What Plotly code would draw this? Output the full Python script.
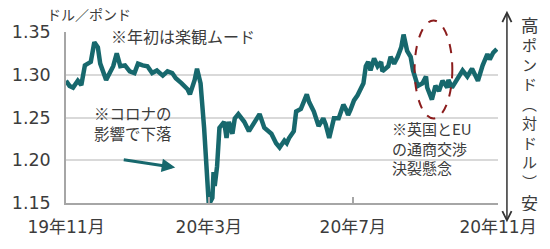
import plotly.graph_objects as go

# ---- data ----
dates = [
    "2019-11-01", "2019-11-04", "2019-11-07", "2019-11-11", "2019-11-14", "2019-11-17",
    "2019-11-22", "2019-11-25", "2019-11-28", "2019-11-30", "2019-12-05", "2019-12-11",
    "2019-12-14", "2019-12-17", "2019-12-21", "2019-12-25", "2019-12-29", "2020-01-01",
    "2020-01-05", "2020-01-09", "2020-01-13", "2020-01-17", "2020-01-22", "2020-01-26",
    "2020-01-30", "2020-02-02", "2020-02-07", "2020-02-12", "2020-02-14", "2020-02-18",
    "2020-02-20", "2020-02-23", "2020-02-26", "2020-02-28", "2020-03-01", "2020-03-04",
    "2020-03-05", "2020-03-06", "2020-03-08", "2020-03-10", "2020-03-14", "2020-03-16",
    "2020-03-18", "2020-03-21", "2020-03-23", "2020-03-26", "2020-03-31", "2020-04-04",
    "2020-04-09", "2020-04-13", "2020-04-17", "2020-04-23", "2020-04-27", "2020-04-30",
    "2020-05-04", "2020-05-06", "2020-05-08", "2020-05-12", "2020-05-14", "2020-05-18",
    "2020-05-23", "2020-05-25", "2020-05-29", "2020-06-02", "2020-06-06", "2020-06-08",
    "2020-06-11", "2020-06-15", "2020-06-19", "2020-06-23", "2020-06-25", "2020-06-27",
    "2020-06-29", "2020-07-02", "2020-07-05", "2020-07-08", "2020-07-10", "2020-07-12",
    "2020-07-14", "2020-07-16", "2020-07-19", "2020-07-22", "2020-07-25", "2020-07-26",
    "2020-07-31", "2020-08-02", "2020-08-05", "2020-08-08", "2020-08-11", "2020-08-13",
    "2020-08-16", "2020-08-19", "2020-08-21", "2020-08-25", "2020-08-29", "2020-09-01",
    "2020-09-02", "2020-09-06", "2020-09-09", "2020-09-12", "2020-09-15", "2020-09-19",
    "2020-09-20", "2020-09-23", "2020-09-28", "2020-10-02", "2020-10-06", "2020-10-10",
    "2020-10-15", "2020-10-19", "2020-10-23", "2020-10-25", "2020-10-28", "2020-10-31",
]
rates = [
    1.293, 1.287, 1.285, 1.293, 1.288, 1.311,
    1.315, 1.338, 1.332, 1.313, 1.294, 1.310,
    1.325, 1.310, 1.311, 1.304, 1.302, 1.313,
    1.311, 1.310, 1.302, 1.305, 1.299, 1.304,
    1.302, 1.296, 1.290, 1.283, 1.277, 1.294,
    1.307, 1.290, 1.238, 1.189, 1.148, 1.156,
    1.186, 1.170, 1.193, 1.238, 1.245, 1.226,
    1.245, 1.231, 1.249, 1.254, 1.245, 1.234,
    1.245, 1.254, 1.238, 1.231, 1.220, 1.215,
    1.223, 1.220, 1.226, 1.234, 1.257, 1.260,
    1.277, 1.268, 1.257, 1.240, 1.249, 1.242,
    1.226, 1.249, 1.249, 1.265, 1.260, 1.253,
    1.259, 1.270, 1.276, 1.285, 1.290, 1.310,
    1.315, 1.305, 1.319, 1.310, 1.315, 1.304,
    1.310, 1.321, 1.313, 1.321, 1.332, 1.347,
    1.328, 1.321, 1.305, 1.287, 1.290, 1.298,
    1.285, 1.271, 1.287, 1.281, 1.293, 1.285,
    1.294, 1.285, 1.296, 1.305, 1.298, 1.307,
    1.293, 1.311, 1.324, 1.318, 1.326, 1.330,
]
tick_dates = ["2019-11-01", "2020-03-01", "2020-07-01", "2020-11-01"]
tick_labels = ["19年11月", "20年3月", "20年7月", "20年11月"]
y_ticks = [1.15, 1.20, 1.25, 1.30, 1.35]

# ---- layout geometry (pixels) ----
W, H = 550, 249
L, R, T, B = 63, 52, 32, 39
PW, PH = W - L - R, H - T - B


def px(x):
    return (x - L) / PW


def py(y):
    return (H - B - y) / PH


TEAL = "#17686d"
TXT = "#3c3c3c"
FONT = "DejaVu Sans, Noto Sans CJK JP, sans-serif"
JFONT = "Noto Sans CJK JP, sans-serif"

fig = go.Figure()
fig.add_trace(go.Scatter(
    x=dates, y=rates, mode="lines",
    line=dict(color=TEAL, width=4.5),
    hoverinfo="skip", showlegend=False,
))

fig.update_layout(
    width=W, height=H,
    margin=dict(l=L, r=R, t=T, b=B),
    paper_bgcolor="white", plot_bgcolor="white",
    font=dict(family=FONT, color=TXT),
    xaxis=dict(
        type="date", range=[tick_dates[0], tick_dates[-1]],
        tickvals=tick_dates, ticktext=tick_labels,
        tickfont=dict(size=17, color=TXT, family=FONT),
        showgrid=False, zeroline=False,
        showline=True, linecolor="#a6a6a6", linewidth=1.5,
        ticks="inside", ticklen=6, tickcolor="#a6a6a6", tickwidth=1.5,
        ticklabelstandoff=8, fixedrange=True,
    ),
    yaxis=dict(
        range=[y_ticks[0], y_ticks[-1]], tickvals=y_ticks, tickformat=".2f",
        tickfont=dict(size=17.5, color=TXT, family=FONT),
        showgrid=True, gridcolor="#d9d9d9", gridwidth=1.5,
        zeroline=False, showline=True, linecolor="#a6a6a6", linewidth=1.5,
        ticks="", ticklabelstandoff=10, fixedrange=True,
    ),
)

ann = []


def text(x, y, s, size=16, anchor="left", font=JFONT, height=None):
    d = dict(x=px(x), y=py(y), xref="paper", yref="paper", text=s,
             showarrow=False, xanchor=anchor, yanchor="middle", align="left",
             font=dict(size=size, color=TXT, family=font))
    if height is not None:
        d["height"] = height
    ann.append(d)


text(42, 13, "ドル／ポンド", size=14)
text(106, 36, "※年初は楽観ムード")
text(89, 127, "※コロナの<br>影響で下落", size=15.5)
text(389, 153, "※英国とEU<br>の通商交渉<br>決裂懸念", size=15)

# vertical label on the right (upright characters stacked)
text(530, 24, "高", size=17.5, anchor="center", height=20)
text(530, 209, "安", size=17, anchor="center", height=18)
vlabel = "ポンド︵対ドル︶"
ann.append(dict(x=px(530), y=py(116), xref="paper", yref="paper",
                text="<br>".join(vlabel), showarrow=False,
                xanchor="center", yanchor="middle", align="center",
                font=dict(size=15, color=TXT, family=JFONT)))

# double-headed arrow
ann.append(dict(x=px(507), y=py(10), xref="paper", yref="paper", text="",
                showarrow=True, ax=0, ay=213, axref="pixel", ayref="pixel",
                arrowside="end+start", arrowhead=5, startarrowhead=5,
                arrowsize=1.2, startarrowsize=1.2, arrowwidth=1.5,
                arrowcolor="#333333", standoff=0, startstandoff=0))

# teal arrow
ann.append(dict(x=px(173), y=py(173), xref="paper", yref="paper", text="",
                showarrow=True, ax=-53, ay=-8, axref="pixel", ayref="pixel",
                arrowhead=2, arrowsize=0.9, arrowwidth=3, arrowcolor=TEAL,
                standoff=0))

fig.update_layout(annotations=ann)

# dashed ellipse
fig.add_shape(type="circle", xref="paper", yref="paper",
              x0=px(414), x1=px(452), y0=py(122), y1=py(20),
              line=dict(color="#8b1c1c", width=2, dash="dash"))

fig.write_html("out.html")
